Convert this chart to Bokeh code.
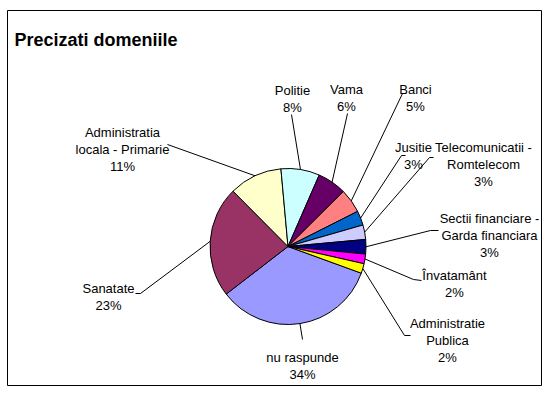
import math
from bokeh.plotting import figure
from bokeh.models import Range1d, ColumnDataSource
from bokeh.core.properties import value
from bokeh.embed import file_html
from bokeh.resources import INLINE

# ---------------- data ----------------
chart_title = "Precizati domeniile"
categories = [
    "nu raspunde",
    "Sanatate",
    "Administratia\nlocala - Primarie",
    "Politie",
    "Vama",
    "Banci",
    "Jusitie",
    "Telecomunicatii -\nRomtelecom",
    "Sectii financiare -\nGarda financiara",
    "Învatamânt",
    "Administratie\nPublica",
]
percent = [34, 23, 11, 8, 6, 5, 3, 3, 3, 2, 2]

# ---------------- style / layout ----------------
colors = ["#9999FF", "#993366", "#FFFFCC", "#CCFFFF", "#660066", "#FF8080",
          "#0066CC", "#CCCCFF", "#000080", "#FF00FF", "#FFFF00"]
CX, CY, R = 287.5, 246.0, 78.0      # pie centre / radius (page px)
FIRST_ANGLE = 110.0                 # deg, clockwise from 12 o'clock
LINE_H = 17.0
FONT = "Liberation Sans"
# label centre x and first baseline (page px)
label_pos = [(302, 357), (108, 288), (122, 132), (292, 90), (346, 89), (415, 89),
             (413, 147), (483, 147), (489, 218), (454, 275), (447, 323)]
# leader line points near the label (page px); the pie-edge point is computed
leader_pts = [[(302, 339)], [(135, 293), (140, 293)], [(167, 144)], [(291, 114)],
              [(347, 113)], [(406, 93), (402, 93)], [(405, 155), (401, 155)],
              [(433, 157), (429, 157)], [(438, 230), (430, 230)],
              [(421, 280), (413, 279)], [(410, 335), (404, 335)]]


def Y(py):
    return -py


total = float(sum(percent))
starts, ends, mids = [], [], []
acc = FIRST_ANGLE
for v in percent:
    span = v / total * 360.0
    starts.append(acc)
    ends.append(acc + span)
    mids.append(acc + span / 2)
    acc += span

p = figure(width=542, height=386, x_range=Range1d(7, 541), y_range=Range1d(-385, -10),
           output_backend="svg", toolbar_location=None,
           min_border_left=7, min_border_right=1, min_border_top=10, min_border_bottom=1)
p.axis.visible = False
p.grid.visible = False
p.outline_line_color = "black"
p.outline_line_width = 1
p.background_fill_color = "white"
p.border_fill_color = "white"

wsrc = ColumnDataSource(dict(
    x=[CX] * len(percent), y=[Y(CY)] * len(percent),
    start=[math.radians(90 - e) for e in ends],
    end=[math.radians(90 - s) for s in starts],
    color=colors,
))
p.wedge(x="x", y="y", radius=R, start_angle="start", end_angle="end",
        direction="anticlock", fill_color="color", line_color="black",
        line_width=1, source=wsrc)

# leader lines
xs, ys = [], []
for pts, m in zip(leader_pts, mids):
    ex = CX + R * math.sin(math.radians(m))
    ey = CY - R * math.cos(math.radians(m))
    xs.append([q[0] for q in pts] + [ex])
    ys.append([Y(q[1]) for q in pts] + [Y(ey)])
p.multi_line(xs=xs, ys=ys, line_color="black", line_width=1)

# labels
tx, ty, tt = [], [], []
for cat, v, (lx, ly) in zip(categories, percent, label_pos):
    lines = cat.split("\n") + [f"{v}%"]
    for i, ln in enumerate(lines):
        tx.append(lx)
        ty.append(Y(ly + i * LINE_H))
        tt.append(ln)
p.text(x="x", y="y", text="text", source=ColumnDataSource(dict(x=tx, y=ty, text=tt)),
       text_font=value(FONT), text_font_size="13px", text_color="black",
       text_align="center", text_baseline="alphabetic")

# title
p.text(x=[14], y=[Y(39)], text=[chart_title], text_font=value(FONT),
       text_font_size="18px", text_font_style="bold", text_color="black",
       text_align="left", text_baseline="alphabetic")

open("out.html", "w").write(file_html(p, INLINE))
